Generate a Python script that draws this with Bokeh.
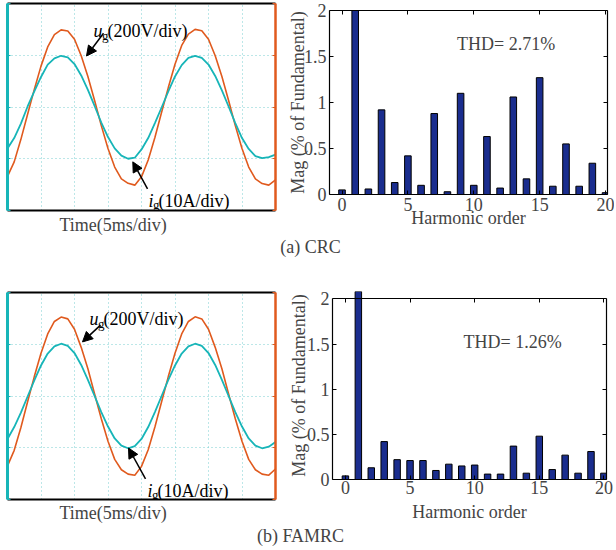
import math
from bokeh.plotting import figure
from bokeh.models import Range1d, LinearAxis, FixedTicker, Label, Arrow, NormalHead, Title
from bokeh.layouts import column, row
from bokeh.embed import file_html
from bokeh.resources import INLINE

# ---------------- data ----------------
t_ms = list(range(41))  # time, ms (5 ms/div)
u_crc = [-268, -212, -125, -28, 68, 158, 232, 280, 298, 294, 262, 198, 118, 25, -72, -160,
         -232, -278, -295, -302, -270, -205, -118, -20, 75, 165, 238, 282, 300, 295, 262, 198,
         118, 25, -72, -160, -232, -278, -296, -302, -282]
i_crc = [-8.0, -6.0, -3.2, 0.1, 3.0, 5.8, 8.2, 9.4, 9.9, 9.6, 8.3, 6.1, 3.3, 0.2, -3.0, -5.8,
         -8.0, -9.4, -10.0, -9.8, -8.2, -6.0, -3.1, -0.1, 3.0, 5.9, 8.1, 9.5, 9.9, 9.5, 8.2, 6.0,
         3.2, 0.1, -3.1, -6.0, -8.1, -9.5, -9.9, -9.7, -9.2]
u_famrc = [-270, -210, -122, -22, 75, 165, 240, 288, 305, 298, 258, 188, 105, 8, -88, -175,
           -245, -285, -302, -306, -272, -208, -120, -22, 75, 165, 240, 288, 306, 298, 258, 188,
           105, 8, -88, -175, -245, -285, -302, -306, -282]
i_famrc = [-8.3, -6.0, -3.2, -0.1, 3.0, 5.9, 8.2, 9.6, 10.1, 9.7, 8.3, 6.0, 3.1, 0.0, -3.1, -5.9,
           -8.2, -9.6, -10.1, -9.7, -8.3, -6.0, -3.1, 0.0, 3.1, 5.9, 8.2, 9.6, 10.1, 9.7, 8.3, 6.0,
           3.1, 0.0, -3.1, -5.9, -8.2, -9.6, -10.1, -9.8, -8.9]

harm = list(range(21))
mag_crc = [0.05, 100, 0.06, 0.92, 0.13, 0.42, 0.10, 0.88, 0.03, 1.10, 0.10, 0.63, 0.07, 1.06,
           0.17, 1.27, 0.09, 0.55, 0.09, 0.34, 0.02]
mag_famrc = [0.04, 100, 0.13, 0.42, 0.22, 0.21, 0.21, 0.10, 0.17, 0.15, 0.16, 0.06, 0.06, 0.37,
             0.07, 0.48, 0.11, 0.27, 0.07, 0.31, 0.07]

time_ticks = [0, 5, 10, 15, 20, 25, 30, 35, 40]
volt_ticks = [-400, -200, 0, 200, 400]
harm_ticks = [0, 5, 10, 15, 20]
mag_ticks = [0, 0.5, 1, 1.5, 2]

FONT = "Liberation Serif"
ORANGE = "#e05a1e"
TEAL = "#17b5b8"
NAVY = "#1a2d8e"


def sub_label(p, x, y, base, sub, rest, dx_sub, dx_rest):
    common = dict(text_font=FONT, text_color="black", text_baseline="alphabetic")
    p.add_layout(Label(x=x, y=y, text=base, text_font_size="18px", text_font_style="italic", **common))
    p.add_layout(Label(x=x, y=y, x_offset=dx_sub, y_offset=-4, text=sub, text_font_size="13px", **common))
    p.add_layout(Label(x=x, y=y, x_offset=dx_rest, text=rest, text_font_size="18px", **common))


def bare_axis(color, width, ticks, tick_len):
    return LinearAxis(ticker=FixedTicker(ticks=ticks), axis_line_color=color, axis_line_width=width,
                      major_tick_in=tick_len, major_tick_out=0, major_tick_line_color=color,
                      minor_tick_line_color=None, major_label_text_font_size="0px",
                      major_label_text_color=None, major_label_standoff=0)


def scope(u, i, height, top, frame_h, time_standoff, u_lab, u_arr, i_lab, i_arr):
    p = figure(width=284, height=height, x_range=Range1d(0, 40), y_range=Range1d(-400, 400),
               toolbar_location=None, output_backend="svg", frame_align=False,
               min_border_left=7, min_border_right=9, min_border_top=top,
               min_border_bottom=height - top - frame_h,
               x_axis_location=None, y_axis_location=None)
    p.extra_y_ranges = {"cur": Range1d(-20, 20)}
    p.outline_line_color = None
    p.xgrid.ticker = FixedTicker(ticks=time_ticks)
    p.ygrid.ticker = FixedTicker(ticks=volt_ticks)
    for g in (p.xgrid, p.ygrid):
        g.grid_line_color = "#79cfd1"
        g.grid_line_dash = "1 3"
        g.grid_line_width = 1

    p.add_layout(bare_axis(TEAL, 3, volt_ticks, 3), "left")
    p.add_layout(bare_axis(ORANGE, 2.5, volt_ticks, 3), "right")
    p.add_layout(bare_axis("black", 2, [], 0), "above")
    p.add_layout(bare_axis("black", 2, [], 0), "below")

    p.line(t_ms, u, line_color=ORANGE, line_width=1.6)
    p.line(t_ms, i, line_color=TEAL, line_width=1.8, y_range_name="cur")

    sub_label(p, u_lab[0], u_lab[1], "u", "g", "(200V/div)", 8.5, 14)
    sub_label(p, i_lab[0], i_lab[1], "i", "g", "(10A/div)", 4.5, 10)
    for (xs, ys, xe, ye) in (u_arr, i_arr):
        p.add_layout(Arrow(end=NormalHead(size=10, fill_color="black", line_color="black"),
                           x_start=xs, y_start=ys, x_end=xe, y_end=ye,
                           line_color="black", line_width=1.5))
    p.add_layout(Title(text="Time(5ms/div)", align="left", offset=52, standoff=time_standoff,
                       text_font=FONT, text_font_size="18px", text_font_style="normal"), "below")
    return p


def bars(mag, width, height, xr, ytop, left, right, top, frame_h, thd, thd_pos,
         ylab_standoff, xtick_standoff, xlab_standoff):
    p = figure(width=width, height=height, x_range=Range1d(*xr), y_range=Range1d(0, ytop),
               toolbar_location=None, output_backend="svg", frame_align=False,
               min_border_left=left, min_border_right=right, min_border_top=top,
               min_border_bottom=height - top - frame_h,
               x_axis_location=None, y_axis_location=None)
    p.grid.visible = False
    p.outline_line_color = None
    p.vbar(x=harm, top=mag, width=0.5, fill_color=NAVY, line_color="black", line_width=1)

    def lab_axis(ticks, standoff, **kw):
        return LinearAxis(ticker=FixedTicker(ticks=ticks), axis_line_color="black", axis_line_width=1.2,
                          major_tick_in=4, major_tick_out=0, major_tick_line_color="black",
                          minor_tick_line_color=None, major_label_text_font=FONT,
                          major_label_text_font_size="18px", major_label_standoff=standoff,
                          major_label_overrides={tk: f"{tk:g}" for tk in ticks},
                          axis_label_text_font=FONT, axis_label_text_font_size="18px",
                          axis_label_text_font_style="normal", **kw)
    p.add_layout(lab_axis(mag_ticks, 3, bounds=(0, 2), axis_label="Mag (% of Fundamental)",
                          axis_label_standoff=ylab_standoff), "left")
    p.add_layout(lab_axis(harm_ticks, xtick_standoff, axis_label="Harmonic order",
                          axis_label_standoff=xlab_standoff), "below")
    r = bare_axis("black", 1.2, mag_ticks, 4)
    r.bounds = (0, 2)
    p.add_layout(r, "right")
    a = bare_axis("black", 1.2, harm_ticks, 4)
    if ytop > 2:
        a.fixed_location = 2
    p.add_layout(a, "above")

    p.add_layout(Label(x=thd_pos[0], y=thd_pos[1], text=thd, text_font=FONT, text_font_size="18px",
                       text_align="left", text_baseline="middle"))
    return p


def caption(text, height, x, y):
    p = figure(width=614, height=height, x_range=Range1d(0, 614), y_range=Range1d(0, height),
               toolbar_location=None, output_backend="svg", min_border=0, frame_align=False,
               x_axis_location=None, y_axis_location=None)
    p.grid.visible = False
    p.outline_line_color = None
    p.add_layout(Label(x=x, y=y, text=text, text_font=FONT, text_font_size="18px",
                       text_align="center", text_baseline="middle"))
    return p


# row 1: 236 px high
scope_a = scope(u_crc, i_crc, 236, 3, 209, 4,
                (12.84, 293), (14.33, 285, 11.79, 197),
                (21.04, -362), (20.9, -316, 18.7, -212))
bar_a = bars(mag_crc, 330, 236, (-0.95, 20.15), 2, 44, 7, 10, 184, "THD= 2.71%", (8.73, 1.64),
             -7, 3, -6)
cap_a = caption("(a) CRC", 21, 310, 10.5)

# row 2: 267 px high
scope_b = scope(u_famrc, i_famrc, 267, 35, 209, 3,
                (12.24, 297), (13.88, 274, 11.19, 209),
                (20.9, -366), (20.6, -320, 18.06, -201))
bar_b = bars(mag_famrc, 330, 267, (-1.0, 20.2), 2.083, 48, 8, 34, 190, "THD= 1.26%", (9.14, 1.527),
             -5, 1, 5)
cap_b = caption("(b) FAMRC", 22, 300, 11)

layout = column(row(scope_a, bar_a), cap_a, row(scope_b, bar_b), cap_b)

with open("out.html", "w") as f:
    f.write(file_html(layout, INLINE))
